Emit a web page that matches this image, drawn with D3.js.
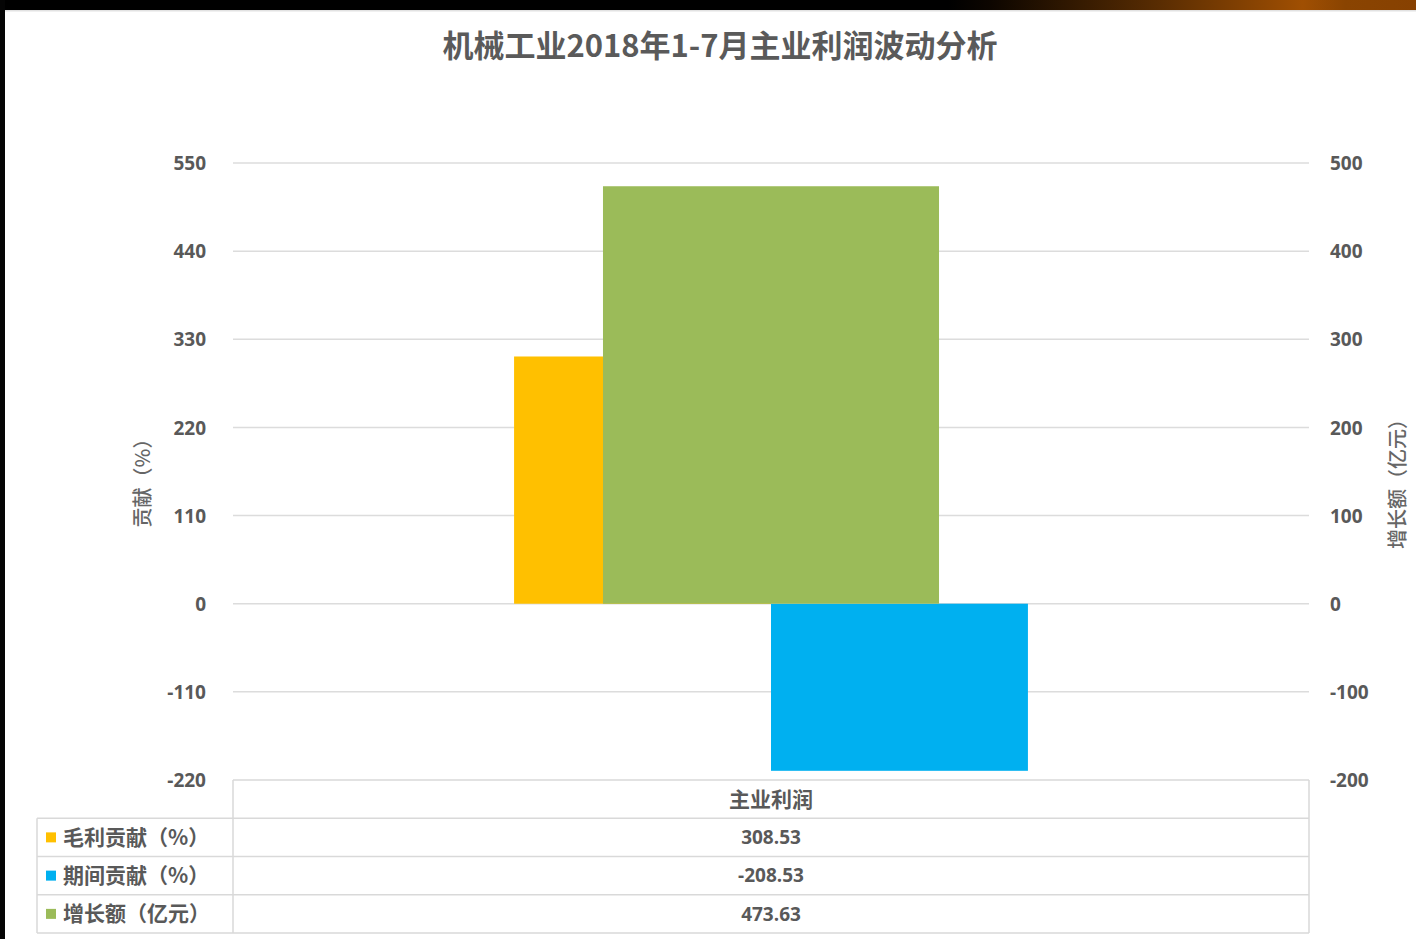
<!DOCTYPE html>
<html>
<head>
<meta charset="utf-8">
<script src="https://cdn.jsdelivr.net/npm/d3@7"></script>
<style>
  html, body { margin: 0; padding: 0; background: #fff; }
  svg { display: block; }
  text { font-family: "Noto Sans CJK SC", "Noto Sans", sans-serif; fill: #595959; }
</style>
</head>
<body>
<svg id="chart" width="1416" height="939"></svg>
<script>
// Chart data
const chartTitle = "机械工业2018年1-7月主业利润波动分析";
const categories = ["主业利润"];
const seriesNames = ["毛利贡献（%）", "期间贡献（%）", "增长额（亿元）"];
const grossContribution = [308.53];   // left axis, %
const periodContribution = [-208.53]; // left axis, %
const growthAmount = [473.63];        // right axis, 亿元
const leftTicks = [-220, -110, 0, 110, 220, 330, 440, 550];
const rightTicks = [-200, -100, 0, 100, 200, 300, 400, 500];
const leftAxisTitle = "贡献（%）";
const rightAxisTitle = "增长额（亿元）";
const seriesColors = ["#FFC000", "#00B0F0", "#9BBB59"];

const svg = d3.select("#chart");
const W = 1416, H = 939;

// Frame: dark band on top and left edge
const defs = svg.append("defs");
const grad = defs.append("linearGradient").attr("id", "topBand")
  .attr("x1", "0%").attr("x2", "100%").attr("y1", "0%").attr("y2", "0%");
[["0%", "#000"], ["67%", "#000"], ["70%", "#0d0600"], ["82%", "#5a2d02"],
 ["92%", "#a04f02"], ["95%", "#8a4401"], ["100%", "#874101"]]
  .forEach(([o, c]) => grad.append("stop").attr("offset", o).attr("stop-color", c));

svg.append("rect").attr("x", 0).attr("y", 0).attr("width", W).attr("height", H).attr("fill", "#fff");
svg.append("rect").attr("x", 0).attr("y", 0).attr("width", W).attr("height", 10).attr("fill", "url(#topBand)");
svg.append("rect").attr("x", 0).attr("y", 10).attr("width", W).attr("height", 1.5).attr("fill", "#e2e2e2");
svg.append("rect").attr("x", 0).attr("y", 0).attr("width", 5).attr("height", H).attr("fill", "#050505");

// Plot geometry
const plot = { left: 233, right: 1309, top: 163, bottom: 780 };

const yL = d3.scaleLinear().domain([d3.min(leftTicks), d3.max(leftTicks)]).range([plot.bottom, plot.top]);
const yR = d3.scaleLinear().domain([d3.min(rightTicks), d3.max(rightTicks)]).range([plot.bottom, plot.top]);

// Primary-axis bar group and secondary-axis bar band
const xPrimary = d3.scaleBand().domain(categories).range([plot.left, plot.right]).paddingInner(0).paddingOuter(0.547);
const xInner = d3.scaleBand().domain([seriesNames[0], seriesNames[1]]).range([0, xPrimary.bandwidth()]);
const xSecondary = d3.scaleBand().domain(categories).range([plot.left, plot.right]).paddingInner(0).paddingOuter(1.101);

const plain = d => String(d);           // hyphen-minus for negatives
const fixed2 = d => d.toFixed(2);

// Title
svg.append("text").attr("x", 720).attr("y", 57).attr("text-anchor", "middle")
  .style("font-size", "31px").style("font-weight", 700).style("fill", "#5a5a5a")
  .text(chartTitle);

// Gridlines
svg.append("g").selectAll("line").data(leftTicks.filter(t => t !== d3.min(leftTicks))).join("line")
  .attr("x1", plot.left).attr("x2", plot.right)
  .attr("y1", d => yL(d)).attr("y2", d => yL(d))
  .attr("stroke", "#dcdcdc").attr("stroke-width", 1.5);

// Left axis
const axisL = svg.append("g").attr("transform", `translate(${206},0)`)
  .call(d3.axisLeft(yL).tickValues(leftTicks).tickSize(0).tickPadding(0).tickFormat(plain));
axisL.select(".domain").remove();
axisL.selectAll("text").attr("x", 0).attr("dy", "0.35em")
  .style("font-size", "19px").style("font-weight", 700).style("fill", "#595959")
  .style("font-family", "'Open Sans', 'Noto Sans', sans-serif");

// Right axis
const axisR = svg.append("g").attr("transform", `translate(${1330},0)`)
  .call(d3.axisRight(yR).tickValues(rightTicks).tickSize(0).tickPadding(0).tickFormat(plain));
axisR.select(".domain").remove();
axisR.selectAll("text").attr("x", 0).attr("dy", "0.35em")
  .style("font-size", "19px").style("font-weight", 700).style("fill", "#595959")
  .style("font-family", "'Open Sans', 'Noto Sans', sans-serif");

// Axis titles
svg.append("text").attr("transform", `translate(150,${478}) rotate(-90)`).attr("text-anchor", "middle")
  .style("font-size", "20px").style("font-weight", 500).style("fill", "#666").text(leftAxisTitle);
svg.append("text").attr("transform", `translate(1405,${479}) rotate(-90)`).attr("text-anchor", "middle")
  .style("font-size", "20px").style("font-weight", 500).style("fill", "#666").text(rightAxisTitle);

// Bars: primary axis series first, secondary axis series drawn on top
const bars = svg.append("g");
const barRect = (val, x0, w, scale, color) => {
  bars.append("rect")
    .attr("x", x0).attr("width", w)
    .attr("y", Math.min(scale(val), scale(0)))
    .attr("height", Math.abs(scale(val) - scale(0)))
    .attr("fill", color);
};
categories.forEach((cat, i) => {
  barRect(grossContribution[i], xPrimary(cat) + xInner(seriesNames[0]), xInner.bandwidth(), yL, seriesColors[0]);
  barRect(periodContribution[i], xPrimary(cat) + xInner(seriesNames[1]), xInner.bandwidth(), yL, seriesColors[1]);
});
categories.forEach((cat, i) => {
  barRect(growthAmount[i], xSecondary(cat), xSecondary.bandwidth(), yR, seriesColors[2]);
});

// Data table under the plot
const tableLeft = 37;
const tableBottom = 933;
const rowKeys = ["header"].concat(seriesNames);
const rowScale = d3.scaleBand().domain(rowKeys).range([plot.bottom, tableBottom]);
const xCol = d3.scaleBand().domain(categories).range([plot.left, plot.right]);
const table = svg.append("g");
const lineColor = "#d9d9d9";

// horizontal rules
rowKeys.forEach((k, i) => {
  const y = rowScale(k);
  table.append("line").attr("x1", i === 0 ? plot.left : tableLeft).attr("x2", plot.right)
    .attr("y1", y).attr("y2", y).attr("stroke", lineColor).attr("stroke-width", 1.5);
});
table.append("line").attr("x1", tableLeft).attr("x2", plot.right).attr("y1", tableBottom).attr("y2", tableBottom)
  .attr("stroke", lineColor).attr("stroke-width", 1.5);
// vertical rules
table.append("line").attr("x1", tableLeft).attr("x2", tableLeft).attr("y1", rowScale(seriesNames[0])).attr("y2", tableBottom)
  .attr("stroke", lineColor).attr("stroke-width", 1.5);
[plot.left, plot.right].forEach(x => {
  table.append("line").attr("x1", x).attr("x2", x).attr("y1", plot.bottom).attr("y2", tableBottom)
    .attr("stroke", lineColor).attr("stroke-width", 1.5);
});

// header: category names
categories.forEach(cat => {
  table.append("text").attr("x", xCol(cat) + xCol.bandwidth() / 2)
    .attr("y", rowScale("header") + rowScale.bandwidth() / 2).attr("dy", "0.36em")
    .attr("text-anchor", "middle").style("font-size", "21px").style("font-weight", 700)
    .text(cat);
});

// legend cells + values
const seriesValues = [grossContribution, periodContribution, growthAmount];
seriesNames.forEach((name, si) => {
  const yc = rowScale(name) + rowScale.bandwidth() / 2;
  table.append("rect").attr("x", 46).attr("y", yc - 5).attr("width", 10).attr("height", 10)
    .attr("fill", seriesColors[si]);
  table.append("text").attr("x", 63).attr("y", yc).attr("dy", "0.36em")
    .style("font-size", "21px").style("font-weight", 700).text(name);
  categories.forEach((cat, ci) => {
    table.append("text").attr("x", xCol(cat) + xCol.bandwidth() / 2).attr("y", yc).attr("dy", "0.36em")
      .attr("text-anchor", "middle").style("font-size", "19px").style("font-weight", 700)
      .style("font-family", "'Open Sans', 'Noto Sans', sans-serif")
      .text(fixed2(seriesValues[si][ci]));
  });
});
</script>
</body>
</html>
